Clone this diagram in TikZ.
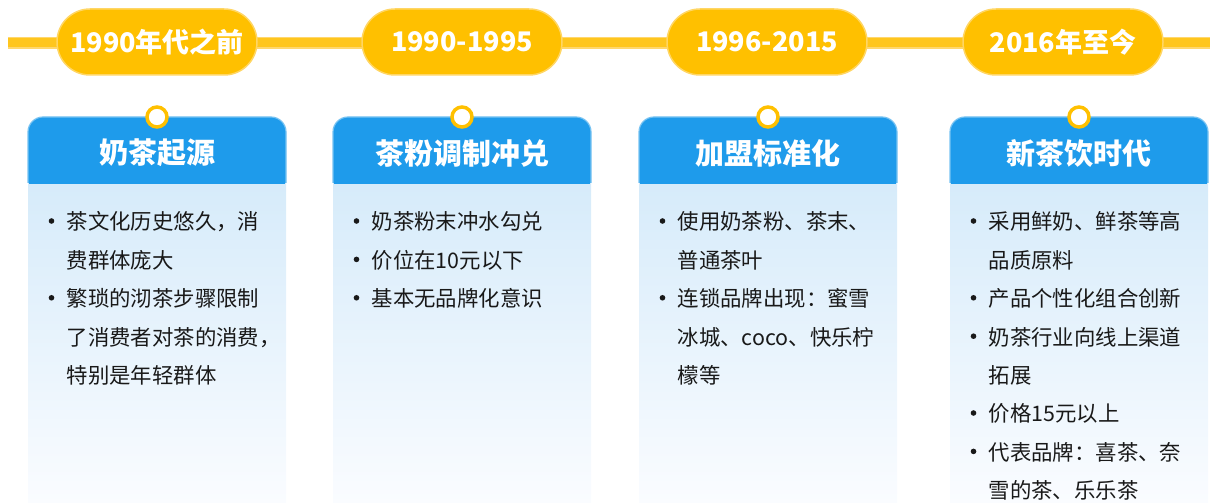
\documentclass[tikz,border=0pt]{standalone}
\usepackage{fontspec}
\newfontfamily\cjk{Noto Sans CJK SC}
\definecolor{pillc}{RGB}{255,192,0}
\definecolor{pilledge}{RGB}{255,214,100}
\definecolor{linec}{RGB}{255,198,30}
\definecolor{lineedge}{RGB}{255,215,110}
\definecolor{headc}{RGB}{30,155,235}
\definecolor{headedge}{RGB}{120,195,242}
\definecolor{bodytop}{RGB}{214,235,250}
\definecolor{bodybot}{RGB}{250,252,255}
\definecolor{textc}{RGB}{25,25,25}
\tikzset{
  pill/.style={fill=pillc, draw=pilledge, line width=1.5pt, rounded corners=33pt,
    minimum width=200pt, minimum height=66pt, inner sep=0pt, text=white,
    font=\cjk\bfseries\fontsize{27}{30}\selectfont},
  headtxt/.style={text=white, inner sep=0pt, font=\cjk\bfseries\fontsize{29}{32}\selectfont},
  ringdot/.style={circle, fill=white, draw=pillc, line width=3.5pt, minimum size=20pt, inner sep=0pt},
  ln/.style={anchor=base west, inner sep=0pt, text=textc, font=\cjk\fontsize{21.4}{25}\selectfont},
  headbox/.style={fill=headc, draw=headedge, line width=1.2pt, rounded corners=15pt},
  bodybox/.style={top color=bodytop, bottom color=bodybot, draw=none},
  bul/.style={fill=textc}
}
\begin{document}
\begin{tikzpicture}[x=1pt,y=1pt]
\useasboundingbox (0,0) rectangle (1210,503);
% timeline line
\coordinate (ls) at (8,460);
\coordinate (le) at (1210,460);
\draw[lineedge, line width=12pt] (ls) -- (le);
\draw[linec, line width=9pt] (ls) -- (le);
% pills
\node[pill] (p1) at (157,461) {1990年代之前};
\node[pill] (p2) at (462,461) {1990-1995};
\node[pill] (p3) at (767,461) {1996-2015};
\node[pill] (p4) at (1063,461) {2016年至今};
% cards: body + header
\foreach \l/\r in {28/286, 333/591, 639/897, 950/1208}{
  \shade[bodybox] (\l,0) rectangle (\r,321);
  \path[headbox] (\l,320) -- (\l,386) -- (\r,386) -- (\r,320);
  \fill[headc] (\l+0.6,319) rectangle (\r-0.6,330);
}
% header texts
\node[headtxt] (h1) at (157,350) {奶茶起源};
\node[headtxt] (h2) at (462,350) {茶粉调制冲兑};
\node[headtxt] (h3) at (768,350) {加盟标准化};
\node[headtxt] (h4) at (1079,350) {新茶饮时代};
% ring markers
\node[ringdot] (m1) at (157,386) {};
\node[ringdot] (m2) at (462,386) {};
\node[ringdot] (m3) at (768,386) {};
\node[ringdot] (m4) at (1079,386) {};
% card 1
\fill[bul] (51.5,282) circle (2.8);
\fill[bul] (51.5,205.2) circle (2.8);
\node[ln] (a1) at (66.5,273) {茶文化历史悠久，消};
\node[ln] (a2) at (66.5,234.6) {费群体庞大};
\node[ln] (a3) at (66.5,196.2) {繁琐的沏茶步骤限制};
\node[ln] (a4) at (66.5,157.8) {了消费者对茶的消费，};
\node[ln] (a5) at (66.5,119.4) {特别是年轻群体};
% card 2
\fill[bul] (356.5,282) circle (2.8);
\fill[bul] (356.5,243.6) circle (2.8);
\fill[bul] (356.5,205.2) circle (2.8);
\node[ln] (b1) at (371.5,273) {奶茶粉末冲水勾兑};
\node[ln] (b2) at (371.5,234.6) {价位在10元以下};
\node[ln] (b3) at (371.5,196.2) {基本无品牌化意识};
% card 3
\fill[bul] (662.5,282) circle (2.8);
\fill[bul] (662.5,205.2) circle (2.8);
\node[ln] (c1) at (677.5,273) {使用奶茶粉、茶末、};
\node[ln] (c2) at (677.5,234.6) {普通茶叶};
\node[ln] (c3) at (677.5,196.2) {连锁品牌出现：蜜雪};
\node[ln] (c4) at (677.5,157.8) {冰城、coco、快乐柠};
\node[ln] (c5) at (677.5,119.4) {檬等};
% card 4
\fill[bul] (973.5,282) circle (2.8);
\fill[bul] (973.5,205.2) circle (2.8);
\fill[bul] (973.5,166.8) circle (2.8);
\fill[bul] (973.5,90) circle (2.8);
\fill[bul] (973.5,51.6) circle (2.8);
\node[ln] (d1) at (988.5,273) {采用鲜奶、鲜茶等高};
\node[ln] (d2) at (988.5,234.6) {品质原料};
\node[ln] (d3) at (988.5,196.2) {产品个性化组合创新};
\node[ln] (d4) at (988.5,157.8) {奶茶行业向线上渠道};
\node[ln] (d5) at (988.5,119.4) {拓展};
\node[ln] (d6) at (988.5,81) {价格15元以上};
\node[ln] (d7) at (988.5,42.6) {代表品牌：喜茶、奈};
\node[ln] (d8) at (988.5,4.2) {雪的茶、乐乐茶};
\end{tikzpicture}
\end{document}
